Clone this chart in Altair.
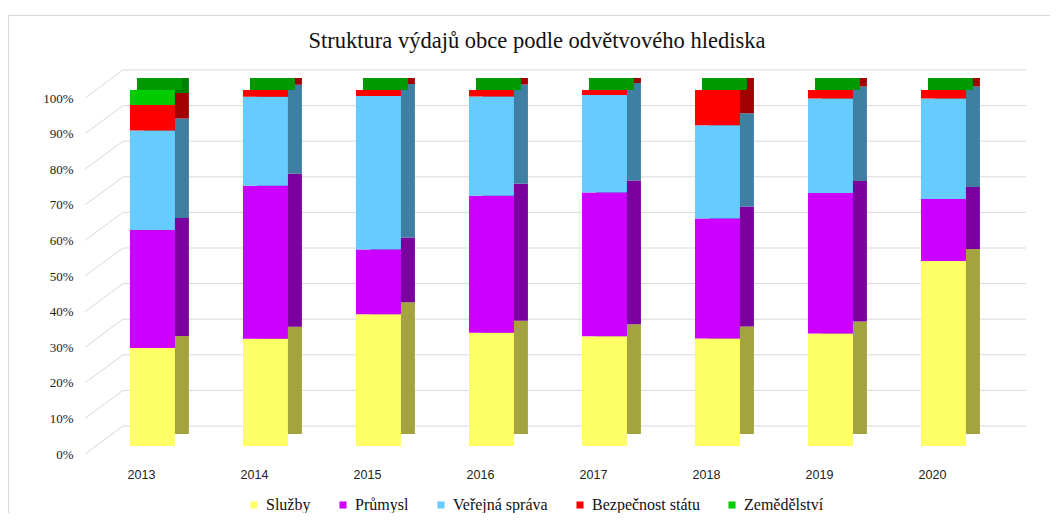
import altair as alt
import pandas as pd

years = ["2013", "2014", "2015", "2016", "2017", "2018", "2019", "2020"]
series = ["Služby", "Průmysl", "Veřejná správa", "Bezpečnost státu", "Zemědělství"]
sluzby = [27.5, 30.1, 37.0, 31.8, 30.8, 30.2, 31.6, 52.0]
prumysl = [33.2, 43.0, 18.2, 38.5, 40.4, 33.7, 39.5, 17.4]
sprava = [27.9, 25.0, 43.1, 27.9, 27.4, 26.2, 26.5, 28.2]
bezpecnost = [7.2, 1.9, 1.7, 1.8, 1.4, 9.9, 2.4, 2.4]
zemedelstvi = [4.2, 0.0, 0.0, 0.0, 0.0, 0.0, 0.0, 0.0]
front_colors = ["#FFFF66", "#CC00FF", "#66CCFF", "#FF0000", "#00CC00"]
side_colors = ["#A3A340", "#7A00A0", "#3F7FA3", "#A00000", "#008000"]
ticks = [0, 10, 20, 30, 40, 50, 60, 70, 80, 90, 100]
title_text = "Struktura výdajů obce podle odvětvového hlediska"

values = [sluzby, prumysl, sprava, bezpecnost, zemedelstvi]
rows = []
for si, s in enumerate(series):
    for yi, y in enumerate(years):
        rows.append({"year": y, "series": s, "idx": si, "value": values[si][yi],
                     "dark": side_colors[si]})
df = pd.DataFrame(rows)
grid_df = pd.DataFrame({"v": ticks})

W, H = 941, 356
DX, DY = 14, 12
WALL = -20

xscale = alt.Scale(domain=years, paddingInner=0.602, paddingOuter=0.4646, align=0.428)
yscale = alt.Scale(domain=[0, 100])
xaxis = alt.Axis(title=None, domain=False, ticks=False, grid=False, labelAngle=0,
                 labelPadding=22, labelOffset=-11, labelFont="Liberation Sans",
                 labelFontSize=12.5, labelColor="#222222")
yaxis = alt.Axis(values=ticks, labelExpr="datum.value + '%'", grid=False, domain=False,
                 ticks=False, labelFont="Liberation Serif", labelFontSize=13,
                 labelColor="#222222", labelPadding=12, labelOffset=8, title=None)

base = alt.Chart(df)
one = alt.Chart(grid_df.head(1))

# outer chart frame
frame = one.mark_rect(fill=None, stroke="#d9d9d9", strokeWidth=1).encode(
    x=alt.value(-76.5), y=alt.value(-74.5), x2=alt.value(W + 40), y2=alt.value(H + 90),
)
# chart title
title = one.mark_text(font="Liberation Serif", fontSize=22.5, color="#111111",
                      align="center", baseline="alphabetic").encode(
    text=alt.value(title_text), x=alt.value(452), y=alt.value(-42),
)

# back wall gridlines
wall = alt.Chart(grid_df).mark_rule(color="#d9d9d9", strokeWidth=1, yOffset=WALL, y2Offset=WALL).encode(
    y=alt.Y("v:Q", scale=yscale, axis=yaxis),
    x=alt.value(38), x2=alt.value(W),
)
# floor diagonals
diag = alt.Chart(grid_df).mark_rule(color="#d9d9d9", strokeWidth=1, yOffset=8, y2Offset=WALL).encode(
    y=alt.Y("v:Q", scale=yscale, axis=yaxis), y2=alt.Y2("v:Q"),
    x=alt.value(0), x2=alt.value(38),
)

side = base.mark_bar(xOffset=DX, yOffset=-DY, y2Offset=-DY).encode(
    x=alt.X("year:N", scale=xscale, sort=years, axis=xaxis),
    y=alt.Y("value:Q", stack="zero", scale=yscale, axis=yaxis),
    color=alt.Color("dark:N", scale=None),
    order=alt.Order("idx:Q", sort="ascending"),
)

top = base.transform_aggregate(total="sum(value)", groupby=["year"]).mark_bar(
    color="#009900", xOffset=DX / 2, yOffset=-DY, y2Offset=0
).encode(
    x=alt.X("year:N", scale=xscale, sort=years, axis=xaxis),
    y=alt.Y("total:Q", scale=yscale, axis=yaxis), y2=alt.Y2("total:Q"),
)

front = base.mark_bar().encode(
    x=alt.X("year:N", scale=xscale, sort=years, axis=xaxis),
    y=alt.Y("value:Q", stack="zero", scale=yscale, axis=yaxis),
    color=alt.Color("series:N", sort=series,
                    scale=alt.Scale(domain=series, range=front_colors),
                    legend=alt.Legend(title=None, orient="none", direction="horizontal",
                                      legendX=161, legendY=407, columns=5,
                                      symbolType="square", symbolSize=50, symbolStrokeWidth=0,
                                      labelFont="Liberation Serif", labelFontSize=16,
                                      labelColor="#111111", labelOffset=4, columnPadding=24)),
    order=alt.Order("idx:Q", sort="ascending"),
)

chart = alt.layer(frame, title, wall, diag, side, top, front).properties(
    width=W, height=H,
    background="white",
    autosize=alt.AutoSizeParams(type="none"),
    padding={"left": 77, "top": 82, "right": 24, "bottom": 67},
).configure_view(stroke=None).configure_legend(
    labelFont="Liberation Serif", labelFontSize=16
).configure_axisY(labelFont="Liberation Serif")

chart.save("out.html", embed_options={"renderer": "svg", "actions": False})
